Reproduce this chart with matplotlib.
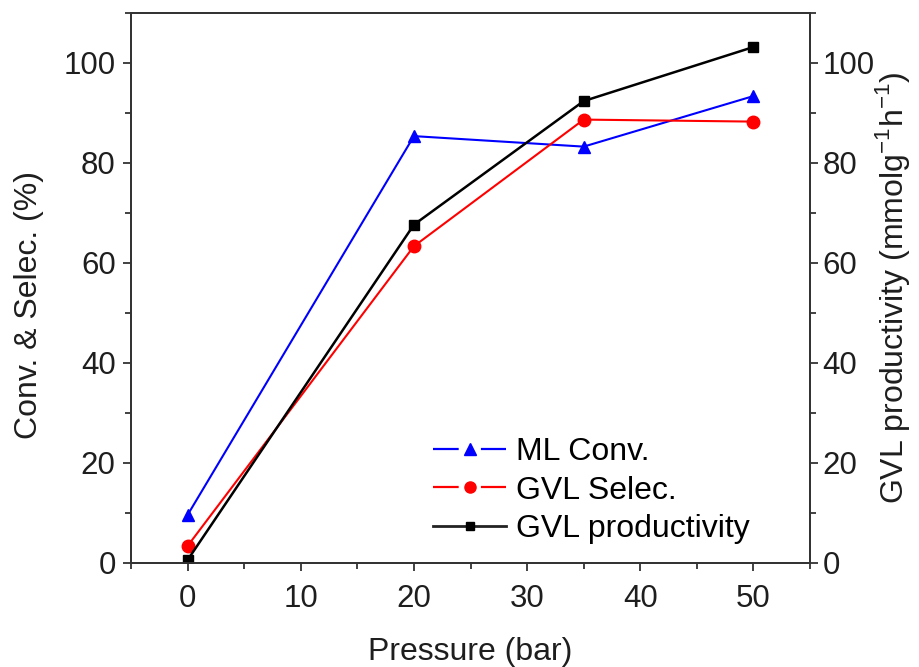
import matplotlib
matplotlib.use("Agg")
import matplotlib.pyplot as plt
from matplotlib.ticker import MultipleLocator
from matplotlib.lines import Line2D

plt.rcParams['font.family'] = ['Liberation Sans', 'DejaVu Sans']
plt.rcParams['mathtext.fontset'] = 'custom'
plt.rcParams['mathtext.rm'] = 'Liberation Sans'
plt.rcParams['lines.scale_dashes'] = False

pressure = [0, 20, 35, 50]
ml_conv = [9.6, 85.3, 83.2, 93.3]
gvl_selec = [3.4, 63.3, 88.6, 88.2]
gvl_prod = [0.6, 67.6, 92.3, 103.1]
legend_labels = ['ML Conv.', 'GVL Selec.', 'GVL productivity']

FS_TICK = 22.5
FS_LAB = 23
TXT = '#1e1e1e'

fig = plt.figure(figsize=(9.19, 6.67), dpi=100)
ax = fig.add_axes([131/919, 1-563/667, (810-131)/919, (563-12.5)/667])
ax2 = ax.twinx()

ax.plot(pressure, ml_conv, color='#0000ff', marker='^', ms=9, lw=1.5)
ax.plot(pressure, gvl_selec, color='#ff0000', marker='o', ms=9, lw=1.5)
ax2.plot(pressure, gvl_prod, color='black', marker='s', ms=6.5, lw=1.8)

ax.set_xlim(-5, 55)
ax.set_ylim(0, 110)
ax2.set_ylim(0, 110)

ax.xaxis.set_major_locator(MultipleLocator(10))
ax.xaxis.set_minor_locator(MultipleLocator(5))
for a in (ax, ax2):
    a.yaxis.set_major_locator(MultipleLocator(20))
    a.yaxis.set_minor_locator(MultipleLocator(10))
    for s in a.spines.values():
        s.set_color('#333333')
        s.set_linewidth(1.3)

ax.tick_params(axis='both', which='major', direction='out', length=6, width=1.3, labelsize=FS_TICK, colors='#333333', labelcolor=TXT)
ax.tick_params(axis='y', which='major', pad=5)
ax.tick_params(axis='x', which='major', pad=9)
ax.tick_params(axis='both', which='minor', direction='out', length=4, width=1.3, colors='#333333')
ax.tick_params(axis='x', top=False, which='both')
ax2.tick_params(axis='y', which='major', direction='out', length=6, width=1.3, labelsize=FS_TICK, colors='#333333', labelcolor=TXT, pad=3)
ax2.tick_params(axis='y', which='minor', direction='out', length=4, width=1.3, colors='#333333')

ax.set_xlabel('Pressure (bar)', fontsize=FS_LAB, color=TXT, labelpad=17)
ax.set_ylabel('Conv. & Selec. (%)', fontsize=FS_LAB, color=TXT, labelpad=14)
ax.yaxis.label.set_y(0.469)
ax2.set_ylabel('GVL productivity (mmolg$^{-1}$h$^{-1}$)', fontsize=FS_LAB, color=TXT, labelpad=-1)

# legend handles: Origin style (line with a gap around the marker)
h1 = (Line2D([], [], color='#0000ff', lw=1.6, dashes=(18.5, 16)),
      Line2D([], [], color='#0000ff', marker='^', ms=8, ls='none'))
h2 = (Line2D([], [], color='#ff0000', lw=1.6, dashes=(18.5, 16)),
      Line2D([], [], color='#ff0000', marker='o', ms=8, ls='none'))
h3 = (Line2D([], [], color='#222222', lw=2.0),
      Line2D([], [], color='black', marker='s', ms=5.5, ls='none'))

ax.legend(handles=[h1, h2, h3], labels=legend_labels, loc='upper left',
          bbox_to_anchor=(433/919, 1-437/667), bbox_transform=fig.transFigure,
          frameon=False, borderpad=0, borderaxespad=0,
          fontsize=FS_LAB, handlelength=2.3, handletextpad=0.31, labelspacing=0.27)

fig.savefig('out.png', dpi=100)
